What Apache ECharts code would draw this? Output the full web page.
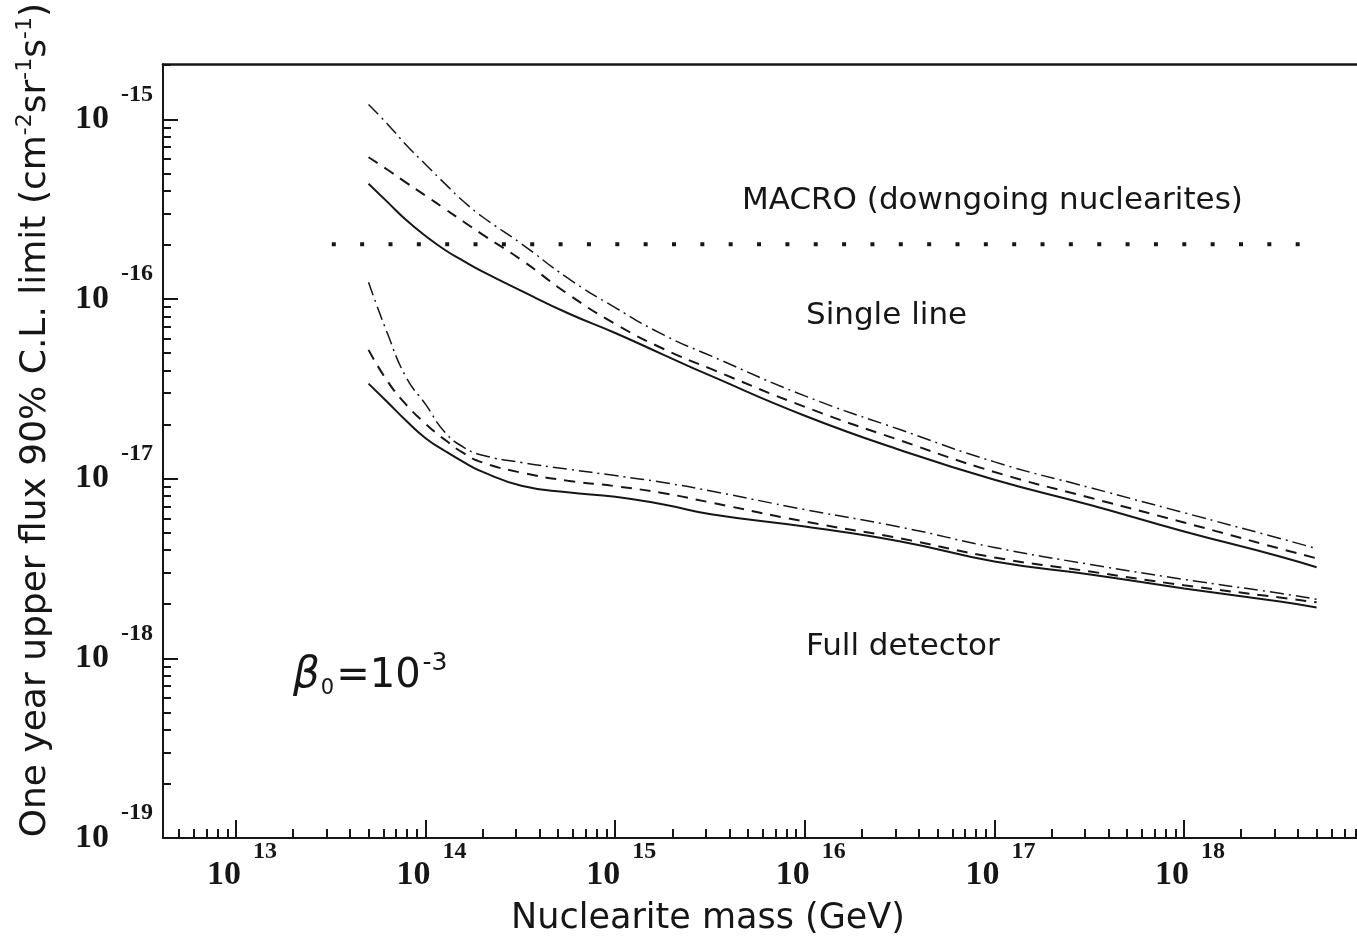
<!DOCTYPE html>
<html><head><meta charset="utf-8">
<script src="https://cdn.jsdelivr.net/npm/echarts@6/dist/echarts.min.js"></script>
<style>html,body{margin:0;padding:0;background:#fff}#c{width:1357px;height:943px}</style>
</head><body><div id="c"></div>
<script>
// ---- data ----
const massGeV = [5e13, 6.3e13, 7.9e13, 1e14, 1.26e14, 1.58e14, 2e14, 3.2e14, 5.6e14, 1e15, 1.8e15, 3.2e15, 1e16, 3.2e16, 1e17, 3.2e17, 1e18, 3.2e18, 5e18];

const singleSolid   = [4.38e-16, 3.46e-16, 2.75e-16, 2.24e-16, 1.88e-16, 1.63e-16, 1.42e-16, 1.11e-16, 8.36e-17, 6.47e-17, 4.89e-17, 3.73e-17, 2.24e-17, 1.44e-17, 9.86e-18, 7.13e-18, 5.08e-18, 3.69e-18, 3.21e-18];
const singleDashed  = [6.15e-16, 5.24e-16, 4.44e-16, 3.76e-16, 3.18e-16, 2.70e-16, 2.28e-16, 1.65e-16, 1.07e-16, 7.26e-17, 5.27e-17, 4.08e-17, 2.51e-17, 1.63e-17, 1.09e-17, 7.83e-18, 5.70e-18, 4.08e-18, 3.60e-18];
const singleDashDot = [1.21e-15, 9.40e-16, 7.20e-16, 5.60e-16, 4.40e-16, 3.50e-16, 2.86e-16, 2.03e-16, 1.31e-16, 8.95e-17, 6.31e-17, 4.82e-17, 2.89e-17, 1.87e-17, 1.24e-17, 8.91e-18, 6.46e-18, 4.65e-18, 4.08e-18];

const fullSolid     = [3.38e-17, 2.66e-17, 2.10e-17, 1.68e-17, 1.43e-17, 1.24e-17, 1.09e-17, 9.14e-18, 8.39e-18, 7.94e-18, 7.18e-18, 6.34e-18, 5.41e-18, 4.47e-18, 3.46e-18, 2.93e-18, 2.45e-18, 2.07e-18, 1.92e-18];
const fullDashed    = [5.21e-17, 3.48e-17, 2.58e-17, 2.02e-17, 1.65e-17, 1.39e-17, 1.23e-17, 1.08e-17, 9.75e-18, 9.08e-18, 8.30e-18, 7.36e-18, 5.77e-18, 4.65e-18, 3.64e-18, 3.04e-18, 2.55e-18, 2.18e-18, 2.05e-18];
const fullDashDot   = [1.24e-16, 6.40e-17, 3.66e-17, 2.59e-17, 1.82e-17, 1.50e-17, 1.35e-17, 1.23e-17, 1.13e-17, 1.04e-17, 9.51e-18, 8.53e-18, 6.73e-18, 5.37e-18, 4.14e-18, 3.33e-18, 2.75e-18, 2.30e-18, 2.13e-18];

const macroFlux = 2.02e-16;
const macroMassRange = [3.2e13, 4.2e18];

const xMajorExp = [13, 14, 15, 16, 17, 18];
const yMajorExp = [-19, -18, -17, -16, -15];

// ---- build ----
const lg = Math.log10;
const X_MIN = 12.615, X_MAX = 18.912, Y_MIN = -19, Y_MAX = -14.694;
const xMinor = [];
for (let d = 12; d <= 18; d++) for (let k = 2; k <= 9; k++) { const v = d + lg(k); if (v > X_MIN && v < X_MAX) xMinor.push(v); }
const yMinor = [];
for (let d = -19; d <= -15; d++) for (let k = 2; k <= 9; k++) { const v = d + lg(k); if (v > Y_MIN && v < Y_MAX) yMinor.push(v); }
const toXY = ys => massGeV.map((m, i) => [lg(m), lg(ys[i])]);

const INK = '#161616';
const serifB = {fontFamily: 'Liberation Serif', fontWeight: 'bold', color: INK};
const sans = 'DejaVu Sans';

function line(name, ys, type, width) {
  return {name, type: 'line', data: toXY(ys), xAxisIndex: 0, yAxisIndex: 0, symbol: 'none',
    smooth: 0.5, lineStyle: {color: INK, width, type}, silent: true, z: 3};
}

const chart = echarts.init(document.getElementById('c'));
chart.setOption({
  animation: false,
  backgroundColor: '#fff',
  grid: {left: 163, right: 0, top: 63, bottom: 105, containLabel: false},
  xAxis: [
    {type: 'value', min: X_MIN, max: X_MAX, position: 'bottom',
     axisLine: {show: true, onZero: false, lineStyle: {color: INK, width: 2}},
     axisTick: {show: true, inside: true, length: 18, customValues: xMajorExp, lineStyle: {color: INK, width: 2}},
     axisLabel: {show: true, customValues: xMajorExp, margin: 20, verticalAlign: 'top', padding: [0, 0, 0, 12],
       formatter: v => '{b|10}{e|' + Math.round(v) + '}',
       rich: {b: Object.assign({fontSize: 34, lineHeight: 34, verticalAlign: 'bottom'}, serifB),
              e: Object.assign({fontSize: 24, lineHeight: 24, verticalAlign: 'bottom', padding: [0, 0, 28, 12]}, serifB)}},
     splitLine: {show: false},
     name: 'Nuclearite mass (GeV)', nameLocation: 'middle', nameGap: 63,
     nameTextStyle: {fontFamily: sans, fontSize: 35, color: INK, padding: [0, 104, 0, 0]}},
    {type: 'value', min: X_MIN, max: X_MAX, position: 'bottom',
     axisLine: {show: false, onZero: false},
     axisTick: {show: true, inside: true, length: 9, customValues: xMinor, lineStyle: {color: INK, width: 2}},
     axisLabel: {show: false}, splitLine: {show: false}},
    {type: 'value', min: X_MIN, max: X_MAX, position: 'top',
     axisLine: {show: true, onZero: false, lineStyle: {color: INK, width: 2.5}},
     axisTick: {show: false}, axisLabel: {show: false}, splitLine: {show: false}}
  ],
  yAxis: [
    {type: 'value', min: Y_MIN, max: Y_MAX, position: 'left',
     axisLine: {show: true, onZero: false, lineStyle: {color: INK, width: 2}},
     axisTick: {show: true, inside: true, length: 15, customValues: yMajorExp, lineStyle: {color: INK, width: 2}},
     axisLabel: {show: true, customValues: yMajorExp, margin: 10,
       formatter: v => '{b|10}{e|' + Math.round(v) + '}',
       rich: {b: Object.assign({fontSize: 34, lineHeight: 34, verticalAlign: 'bottom'}, serifB),
              e: Object.assign({fontSize: 24, lineHeight: 24, verticalAlign: 'bottom', padding: [0, 0, 30, 12]}, serifB)}},
     splitLine: {show: false},
     name: '{t|One year upper flux 90% C.L. limit (cm}{s|-2}{t|sr}{s|-1}{t|s}{s|-1}{t|)}',
     nameLocation: 'middle', nameGap: 109,
     nameTextStyle: {padding: [0, 0, 0, 62],
       rich: {t: {fontFamily: sans, fontSize: 36, lineHeight: 36, color: INK, verticalAlign: 'bottom'},
              s: {fontFamily: sans, fontSize: 22, lineHeight: 22, color: INK, verticalAlign: 'bottom', padding: [0, 0, 18, 0]}}}},
    {type: 'value', min: Y_MIN, max: Y_MAX, position: 'left',
     axisLine: {show: false, onZero: false},
     axisTick: {show: true, inside: true, length: 8, customValues: yMinor, lineStyle: {color: INK, width: 2}},
     axisLabel: {show: false}, splitLine: {show: false}}
  ],
  series: [
    line('Single line (solid)', singleSolid, 'solid', 2),
    line('Single line (dashed)', singleDashed, [11, 8], 2),
    line('Single line (dash-dot)', singleDashDot, [14, 5, 2, 5], 1.5),
    line('Full detector (solid)', fullSolid, 'solid', 2),
    line('Full detector (dashed)', fullDashed, [11, 8], 2),
    line('Full detector (dash-dot)', fullDashDot, [14, 5, 2, 5], 1.5),
    {name: 'MACRO', type: 'line', symbol: 'none', silent: true,
     data: macroMassRange.map(m => [lg(m), lg(macroFlux)]),
     lineStyle: {color: INK, width: 4, type: [4, 24.35], cap: 'butt'}}
  ],
  graphic: [
    {type: 'text', x: 742, y: 201, silent: true,
     style: {text: 'MACRO (downgoing nuclearites)', fontFamily: sans, fontSize: 31, fill: INK, verticalAlign: 'middle'}},
    {type: 'text', x: 806, y: 316, silent: true,
     style: {text: 'Single line', fontFamily: sans, fontSize: 31, fill: INK, verticalAlign: 'middle'}},
    {type: 'text', x: 806, y: 647, silent: true,
     style: {text: 'Full detector', fontFamily: sans, fontSize: 31, fill: INK, verticalAlign: 'middle'}},
    {type: 'text', x: 293, y: 681, silent: true,
     style: {text: '{g|β}{sub|0}{n|=10}{sup|-3}', verticalAlign: 'middle', fill: INK,
       rich: {g: {fontFamily: sans, fontStyle: 'italic', fontSize: 42, lineHeight: 42, verticalAlign: 'bottom', padding: [0, 1, 5, 0], color: INK},
              sub: {fontFamily: sans, fontSize: 21, lineHeight: 21, verticalAlign: 'bottom', padding: [0, 2, 3, 0], color: INK},
              n: {fontFamily: sans, fontSize: 40, lineHeight: 40, verticalAlign: 'bottom', padding: [0, 0, 5, 0], color: INK},
              sup: {fontFamily: sans, fontSize: 25, lineHeight: 25, verticalAlign: 'bottom', padding: [0, 0, 26, 2], color: INK}}}}
  ]
});
</script></body></html>
